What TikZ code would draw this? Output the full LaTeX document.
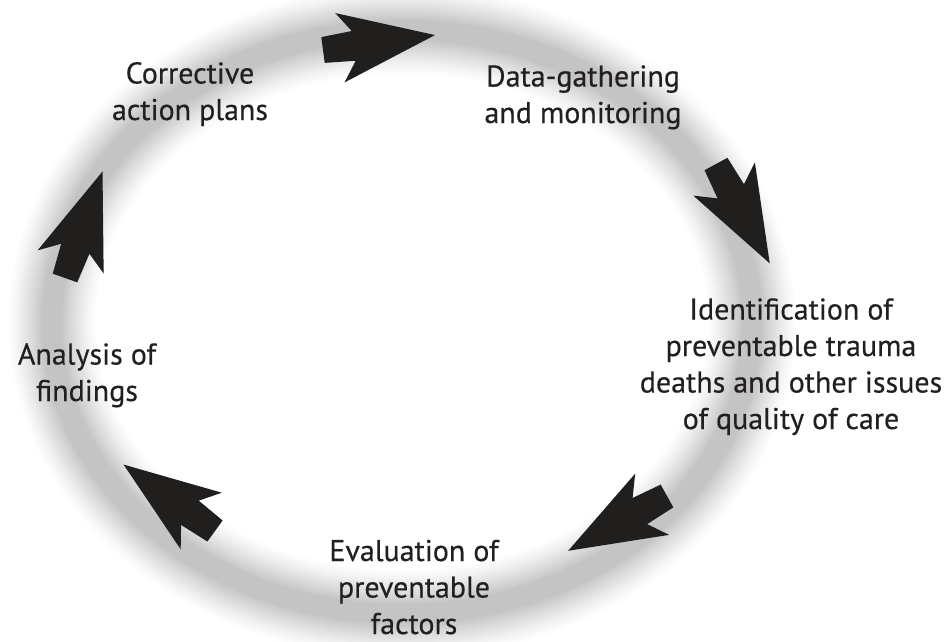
\documentclass[tikz,border=0pt]{standalone}
\usepackage{fontspec}
\setmainfont{PT Sans}[FakeBold=0.4]
\usepackage{tikz}
\usetikzlibrary{positioning}
\definecolor{ringgray}{RGB}{196,196,196}
\definecolor{labelink}{RGB}{35,31,32}

\tikzset{
  steplabel/.style={align=center, inner sep=0pt, anchor=base, text=labelink,
                    font=\fontsize{30}{36.5}\selectfont},
  cyclearrow/.pic={
    \fill[labelink!95!black] (0,-13) -- (31,-15) -- (17,-35) -- (113,0)
         -- (17,35) -- (31,15) -- (0,13) -- cycle;
  }
}

\begin{document}
\begin{tikzpicture}[x=1pt, y=-1pt]
    \useasboundingbox (0,0) rectangle (945,641);
    % soft grey ring
    \foreach \i [evaluate=\i as \shade using int(100*(\i/16)^1.3),
                 evaluate=\i as \w using 94-4.6*\i] in {1,...,16}
        \draw[line width=\w pt, ringgray!\shade!white]
            (402,322) ellipse [x radius=350, y radius=292];
    % arrows round the cycle
    \foreach \x/\y/\a in {323/50/7.6, 716/164/-61.6, 667/496/209, 215/531/144, 65/278/70.6}
        \pic[rotate=\a] at (\x,\y) {cyclearrow};
    % step labels (anchored on the last line)
    \node[steplabel] (corrective) at (190,120) {Corrective\\action plans};
    \node[steplabel] (datagather) at (583,123) {Data-gathering\\and monitoring};
    \node[steplabel] (identify) at (791,429) {Identification of\\preventable trauma\\deaths and other issues\\of quality of care};
    \node[steplabel] (evaluate) at (414,634) {Evaluation of\\preventable\\factors};
    \node[steplabel] (analysis) at (87,401) {Analysis of\\findings};
\end{tikzpicture}
\end{document}
